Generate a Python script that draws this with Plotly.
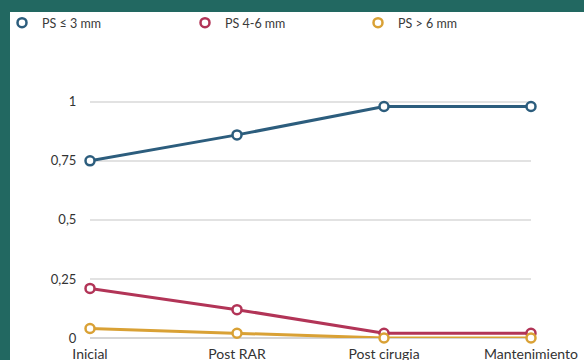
import plotly.graph_objects as go

categories = ["Inicial", "Post RAR", "Post cirugia", "Mantenimiento"]
ps_le3 = [0.75, 0.86, 0.98, 0.98]
ps_4_6 = [0.21, 0.12, 0.02, 0.02]
ps_gt6 = [0.04, 0.02, 0.0, 0.0]
series_names = ["PS \u2264 3 mm", "PS 4-6 mm", "PS > 6 mm"]
series_values = [ps_le3, ps_4_6, ps_gt6]
series_colors = ["#2c5d7d", "#b23457", "#d9a135"]
y_tickvals = [0, 0.25, 0.5, 0.75, 1]
y_ticktext = ["0", "0,25", "0,5", "0,75", "1"]

W, H = 584, 360
L, R, T, B = 90, 53, 90, 22
pw, ph = W - L - R, H - T - B

def px_x(p):
    return (p - L) / pw

def px_y(p):
    return (H - B - p) / ph

legend_ids = ["legend", "legend2", "legend3"]
legend_left_px = [2, 185, 358]

fig = go.Figure()
for name, vals, col in zip(series_names, series_values, series_colors):
    fig.add_trace(go.Scatter(
        x=categories, y=vals, mode="lines+markers", name=name, showlegend=False,
        line=dict(color=col, width=3),
        marker=dict(symbol="circle", size=9, color="white", line=dict(color=col, width=2.5)),
        cliponaxis=False,
    ))
for name, col, lid in zip(series_names, series_colors, legend_ids):
    fig.add_trace(go.Scatter(
        x=[None], y=[None], mode="markers", name=name, legend=lid,
        marker=dict(symbol="circle", size=9, color="white", line=dict(color=col, width=2.5)),
    ))

fig.add_shape(type="rect", xref="paper", yref="paper",
              x0=px_x(10), x1=px_x(600), y0=px_y(380), y1=px_y(12),
              fillcolor="white", line=dict(width=0), layer="below")

legend_common = dict(orientation="h", xanchor="left", y=px_y(23), yanchor="middle",
                     bgcolor="rgba(0,0,0,0)", font=dict(size=12.5, color="#3a3a3a"),
                     itemclick=False, itemdoubleclick=False)
legends = {}
for lid, lx in zip(legend_ids, legend_left_px):
    legends[lid] = dict(x=px_x(lx), **legend_common)

fig.update_layout(
    width=W, height=H,
    margin=dict(l=L, r=R, t=T, b=B, autoexpand=False),
    paper_bgcolor="#226861", plot_bgcolor="white",
    font=dict(family="Lato, DejaVu Sans, sans-serif", color="#333333", size=12),
    xaxis=dict(type="category", range=[0, 3], showgrid=False, zeroline=False, showline=False,
               ticks="outside", ticklen=3, tickcolor="rgba(0,0,0,0)",
               tickfont=dict(size=14, color="#333333"), automargin=False),
    yaxis=dict(range=[0, 1.05], tickvals=y_tickvals, ticktext=y_ticktext,
               showgrid=True, gridcolor="#e2e2e2", gridwidth=1.5,
               zeroline=True, zerolinecolor="#d5d5d5", zerolinewidth=2, showline=False,
               ticks="outside", ticklen=10, tickcolor="rgba(0,0,0,0)",
               tickfont=dict(size=13, color="#333333"), automargin=False),
    **legends,
)

fig.write_html("out.html", config={"displayModeBar": False},
               post_script="document.body.style.margin='0';")
